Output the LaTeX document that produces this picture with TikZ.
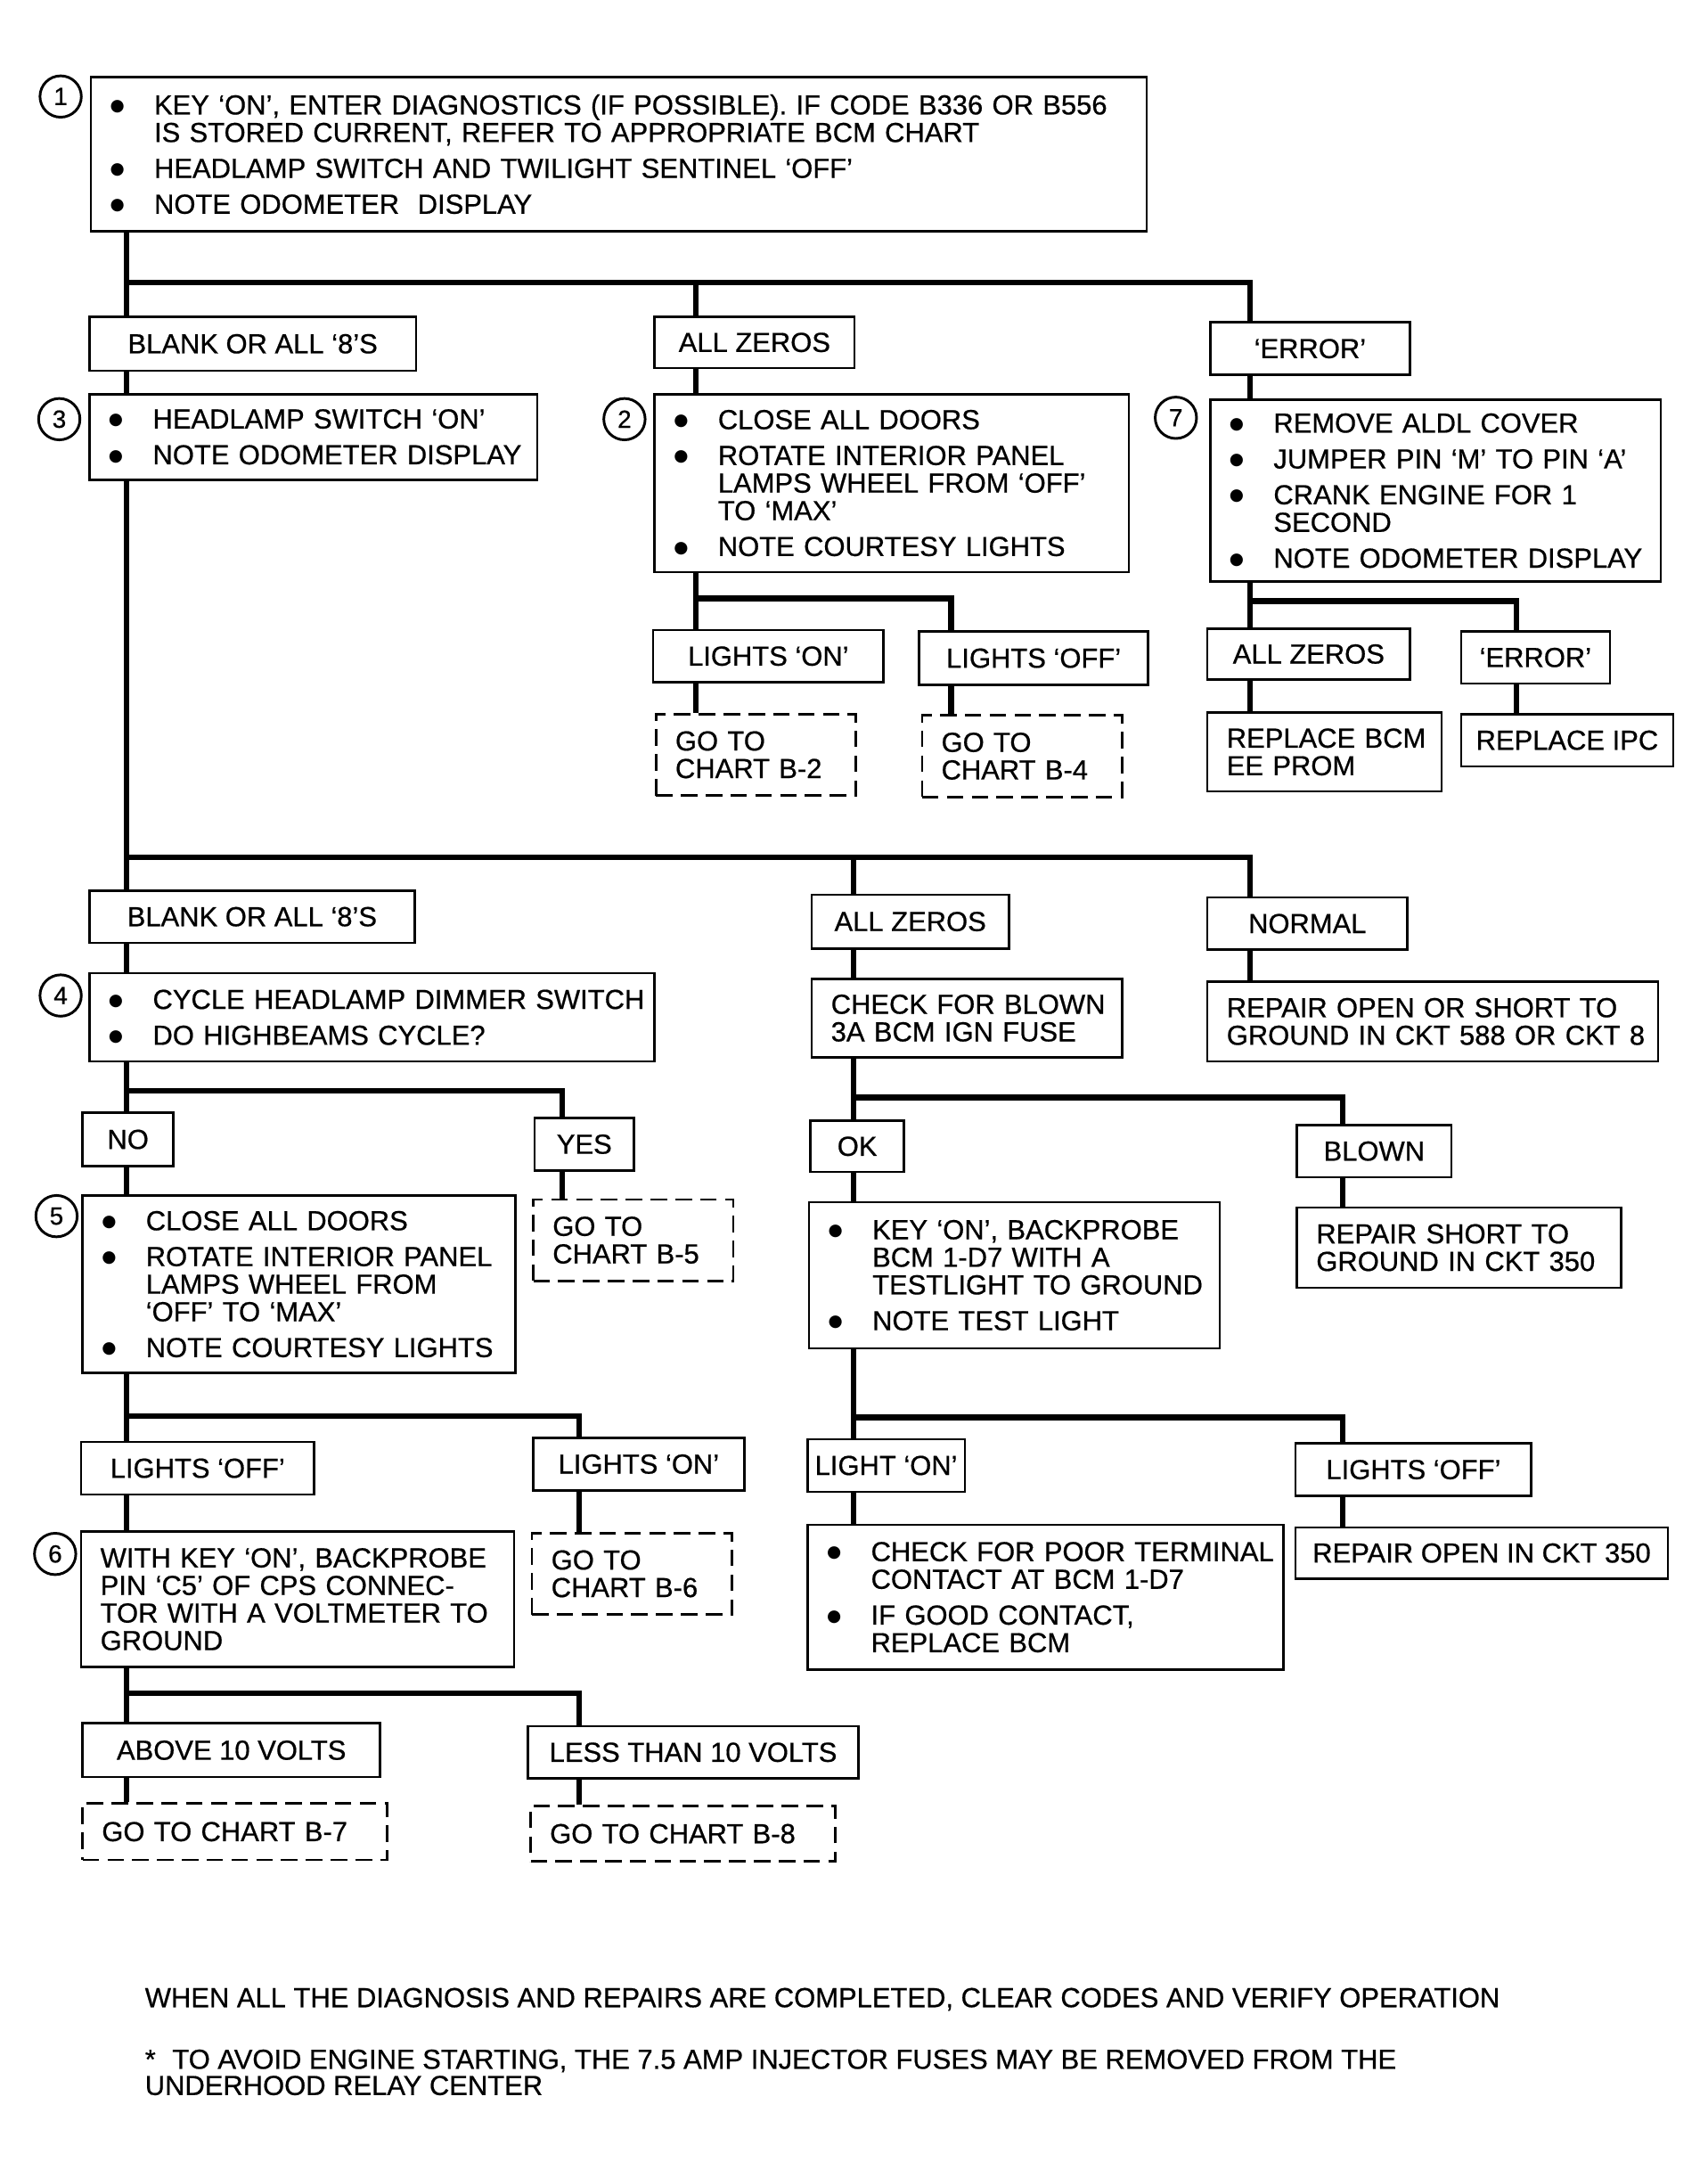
\documentclass[tikz,border=0pt]{standalone}
\usepackage{fontspec}
\setmainfont{Liberation Sans}[FakeBold=0.6]
\newfontfamily\symfont{DejaVu Sans}
\usetikzlibrary{calc}

\newcommand\boxfont{\fontsize{20}{20}\selectfont}
\newcommand\bigdot{\raisebox{2.5pt}{\symfont\fontsize{12}{12}\selectfont ●}}
\newcommand\bitem[1]{\makebox[32pt][l]{\bigdot}\mbox{#1}}
\newcommand\citem[1]{\hspace*{32pt}\mbox{#1}}

\begin{document}
\begin{tikzpicture}[
    x=1pt, y=-1pt,
    box/.style={draw, line width=1.7pt, anchor=north west, inner xsep=14pt,
                inner ysep=0pt, align=left, font=\boxfont},
    lbl/.style={box, align=center, inner xsep=0pt},
    goto/.style={box, dash pattern=on 12pt off 6pt, line width=1.8pt},
    wd/.code={\pgfmathsetmacro\boxtw{#1-28}\tikzset{minimum width=#1pt, text width=\boxtw pt}},
    lw/.style={minimum width=#1pt},
    ht/.style={minimum height=#1pt},
    num/.style={circle, draw, line width=1.9pt, minimum size=30pt, inner sep=0pt,
                font=\fontsize{18}{18}\selectfont},
    wire/.style={line width=4pt}
]
\fill[white] (0,0) rectangle (1239,1568);

% step 1 and the odometer readings
\node[box, wd=766, ht=112] (b1) at (65,55) {\bitem{KEY `ON', ENTER DIAGNOSTICS (IF POSSIBLE). IF CODE B336 OR B556}\\
  \citem{IS STORED CURRENT, REFER TO APPROPRIATE BCM CHART}\\[6pt]
  \bitem{HEADLAMP SWITCH AND TWILIGHT SENTINEL `OFF'}\\[6pt]
  \bitem{NOTE ODOMETER\ \ DISPLAY}};
\node[num] (c1) at (44,70) {1};

\node[lbl, lw=237, ht=39] (blank1) at (64,229) {BLANK OR ALL `8'S};
\node[lbl, lw=145, ht=37] (zer1) at (474,229) {ALL ZEROS};
\node[lbl, lw=145, ht=38] (err1) at (877,233) {`ERROR'};

\node[box, wd=325, ht=62] (b3) at (64,285) {\bitem{HEADLAMP SWITCH `ON'}\\[6pt]
  \bitem{NOTE ODOMETER DISPLAY}};
\node[num] (c3) at (43,304) {3};
\node[box, wd=344, ht=129] (b2) at (474,285) {\bitem{CLOSE ALL DOORS}\\[6pt]
  \bitem{ROTATE INTERIOR PANEL}\\ \citem{LAMPS WHEEL FROM `OFF'}\\ \citem{TO `MAX'}\\[6pt]
  \bitem{NOTE COURTESY LIGHTS}};
\node[num] (c2) at (453,304) {2};
\node[box, wd=327, ht=132] (b7) at (877,289) {\bitem{REMOVE ALDL COVER}\\[6pt]
  \bitem{JUMPER PIN `M' TO PIN `A'}\\[6pt]
  \bitem{CRANK ENGINE FOR 1}\\ \citem{SECOND}\\[6pt]
  \bitem{NOTE ODOMETER DISPLAY}};
\node[num] (c7) at (853,303) {7};

\node[lbl, lw=167, ht=38] (on2) at (473,456) {LIGHTS `ON'};
\node[lbl, lw=166, ht=39] (off2) at (666,457) {LIGHTS `OFF'};
\node[goto, wd=145, ht=59] (g2) at (475,517) {GO TO\\CHART B-2};
\node[goto, wd=145, ht=59] (g4) at (668,518) {GO TO\\CHART B-4};
\node[lbl, lw=147, ht=37] (zer7) at (875,455) {ALL ZEROS};
\node[lbl, lw=108, ht=38] (err7) at (1059,457) {`ERROR'};
\node[box, wd=170, ht=57] (rbcm) at (875,516) {\mbox{REPLACE BCM}\\EE PROM};
\node[lbl, lw=154, ht=38] (ripc) at (1059,517) {REPLACE IPC};

% headlamp branch
\node[lbl, lw=236, ht=38] (blank2) at (64,645) {BLANK OR ALL `8'S};
\node[lbl, lw=143, ht=39] (zer2) at (588,648) {ALL ZEROS};
\node[lbl, lw=145, ht=38] (norm) at (875,650) {NORMAL};
\node[box, wd=410, ht=64] (b4) at (64,705) {\bitem{CYCLE HEADLAMP DIMMER SWITCH}\\[6pt]
  \bitem{DO HIGHBEAMS CYCLE?}};
\node[num] (c4) at (44,722) {4};
\node[box, wd=225, ht=57] (chk) at (588,709) {\mbox{CHECK FOR BLOWN}\\\mbox{3A BCM IGN FUSE}};
\node[box, wd=327, ht=58] (ropen) at (875,711) {\mbox{REPAIR OPEN OR SHORT TO}\\\mbox{GROUND IN CKT 588 OR CKT 8}};
\node[lbl, lw=66, ht=39] (no) at (59,806) {NO};
\node[lbl, lw=72, ht=38] (yes) at (387,810) {YES};
\node[lbl, lw=68, ht=37] (ok) at (587,812) {OK};
\node[lbl, lw=112, ht=38] (blown) at (940,815) {BLOWN};
\node[box, wd=314, ht=129] (b5) at (59,866) {\bitem{CLOSE ALL DOORS}\\[6pt]
  \bitem{ROTATE INTERIOR PANEL}\\ \citem{LAMPS WHEEL FROM}\\ \citem{`OFF' TO `MAX'}\\[6pt]
  \bitem{NOTE COURTESY LIGHTS}};
\node[num] (c5) at (41,882) {5};
\node[goto, wd=145, ht=59] (g5) at (386,869) {GO TO\\CHART B-5};
\node[box, wd=298, ht=106] (keyon) at (586,871) {\bitem{KEY `ON', BACKPROBE}\\
  \citem{BCM 1-D7 WITH A}\\ \citem{TESTLIGHT TO GROUND}\\[6pt]
  \bitem{NOTE TEST LIGHT}};
\node[box, wd=235, ht=58] (rshort) at (940,875) {\mbox{REPAIR SHORT TO}\\\mbox{GROUND IN CKT 350}};

\node[lbl, lw=169, ht=38] (off5) at (58,1045) {LIGHTS `OFF'};
\node[lbl, lw=153, ht=38] (on5) at (386,1042) {LIGHTS `ON'};
\node[lbl, lw=114, ht=38] (lon) at (585,1043) {LIGHT `ON'};
\node[lbl, lw=171, ht=38] (loff) at (939,1046) {LIGHTS `OFF'};
\node[box, wd=314, ht=98] (b6) at (58,1110) {\mbox{WITH KEY `ON', BACKPROBE}\\
  \mbox{PIN `C5' OF CPS CONNEC-}\\ \mbox{TOR WITH A VOLTMETER TO}\\ GROUND};
\node[num] (c6) at (40,1127) {6};
\node[goto, wd=145, ht=59] (g6) at (385,1111) {GO TO\\CHART B-6};
\node[box, wd=345, ht=105] (poor) at (585,1105) {\bitem{CHECK FOR POOR TERMINAL}\\
  \citem{CONTACT AT BCM 1-D7}\\[6pt]
  \bitem{IF GOOD CONTACT,}\\ \citem{REPLACE BCM}};
\node[lbl, lw=270, ht=37] (ro350) at (939,1107) {REPAIR OPEN IN CKT 350};
\node[lbl, lw=216, ht=39] (above) at (59,1249) {ABOVE 10 VOLTS};
\node[lbl, lw=240, ht=38] (less) at (382,1251) {LESS THAN 10 VOLTS};
\node[goto, wd=221, ht=41] (g7) at (59,1307) {GO TO CHART B-7};
\node[goto, wd=221, ht=40] (g8) at (384,1309) {GO TO CHART B-8};

% notes
\node[anchor=west, inner sep=0pt, font=\boxfont] (note1) at (105,1450)
  {WHEN ALL THE DIAGNOSIS AND REPAIRS ARE COMPLETED, CLEAR CODES AND VERIFY OPERATION};
\node[anchor=west, inner sep=0pt, align=left, font=\fontsize{20}{19}\selectfont] (note2) at (105,1503)
  {*\hspace{12pt}TO AVOID ENGINE STARTING, THE 7.5 AMP INJECTOR FUSES MAY BE REMOVED FROM THE\\
   UNDERHOOD RELAY CENTER};

% columns and bars of the connectors
\coordinate (xT) at (92,0);
\coordinate (xB) at (505,0);
\coordinate (xC) at (690,0);
\coordinate (xD) at (907,0);
\coordinate (xE) at (1100,0);
\coordinate (xF) at (619,0);
\coordinate (xG) at (974,0);
\coordinate (xH) at (408,0);
\coordinate (xI) at (420,0);
\coordinate (r1) at (0,205);
\coordinate (r2) at (0,622);
\coordinate (r3) at (0,434);
\coordinate (r4) at (0,436);
\coordinate (r5) at (0,791);
\coordinate (r6) at (0,1027);
\coordinate (r7) at (0,1228);
\coordinate (r8) at (0,796);
\coordinate (r9) at (0,1028);

% top fork
\draw[wire] (b1.south -| xT) -- (xT |- r1) -- (xD |- r1) -- (err1.north -| xD);
\draw[wire] (xT |- r1) -- (blank1.north -| xT);
\draw[wire] (xB |- r1) -- (zer1.north -| xB);
\draw[wire] (blank1.south -| xT) -- (b3.north -| xT);
\draw[wire] (zer1.south -| xB) -- (b2.north -| xB);
\draw[wire] (err1.south -| xD) -- (b7.north -| xD);
% courtesy lights
\draw[wire] (b2.south -| xB) -- (xB |- r3) -- (xC |- r3) -- (off2.north -| xC);
\draw[wire] (xB |- r3) -- (on2.north -| xB);
\draw[wire] (on2.south -| xB) -- (g2.north -| xB);
\draw[wire] (off2.south -| xC) -- (g4.north -| xC);
% aldl jumper
\draw[wire] (b7.south -| xD) -- (xD |- r4) -- (xE |- r4) -- (err7.north -| xE);
\draw[wire] (xD |- r4) -- (zer7.north -| xD);
\draw[wire] (zer7.south -| xD) -- (rbcm.north -| xD);
\draw[wire] (err7.south -| xE) -- (ripc.north -| xE);
% headlamp on
\draw[wire] (b3.south -| xT) -- (xT |- r2) -- (xD |- r2) -- (norm.north -| xD);
\draw[wire] (xT |- r2) -- (blank2.north -| xT);
\draw[wire] (xF |- r2) -- (zer2.north -| xF);
\draw[wire] (blank2.south -| xT) -- (b4.north -| xT);
\draw[wire] (zer2.south -| xF) -- (chk.north -| xF);
\draw[wire] (norm.south -| xD) -- (ropen.north -| xD);
% dimmer switch
\draw[wire] (b4.south -| xT) -- (xT |- r5) -- (xH |- r5) -- (yes.north -| xH);
\draw[wire] (xT |- r5) -- (no.north -| xT);
\draw[wire] (no.south -| xT) -- (b5.north -| xT);
\draw[wire] (yes.south -| xH) -- (g5.north -| xH);
\draw[wire] (b5.south -| xT) -- (xT |- r6) -- (xI |- r6) -- (on5.north -| xI);
\draw[wire] (xT |- r6) -- (off5.north -| xT);
\draw[wire] (off5.south -| xT) -- (b6.north -| xT);
\draw[wire] (on5.south -| xI) -- (g6.north -| xI);
\draw[wire] (b6.south -| xT) -- (xT |- r7) -- (xI |- r7) -- (less.north -| xI);
\draw[wire] (xT |- r7) -- (above.north -| xT);
\draw[wire] (above.south -| xT) -- (g7.north -| xT);
\draw[wire] (less.south -| xI) -- (g8.north -| xI);
% fuse check
\draw[wire] (chk.south -| xF) -- (xF |- r8) -- (xG |- r8) -- (blown.north -| xG);
\draw[wire] (xF |- r8) -- (ok.north -| xF);
\draw[wire] (ok.south -| xF) -- (keyon.north -| xF);
\draw[wire] (blown.south -| xG) -- (rshort.north -| xG);
\draw[wire] (keyon.south -| xF) -- (xF |- r9) -- (xG |- r9) -- (loff.north -| xG);
\draw[wire] (xF |- r9) -- (lon.north -| xF);
\draw[wire] (lon.south -| xF) -- (poor.north -| xF);
\draw[wire] (loff.south -| xG) -- (ro350.north -| xG);
\end{tikzpicture}
\end{document}
